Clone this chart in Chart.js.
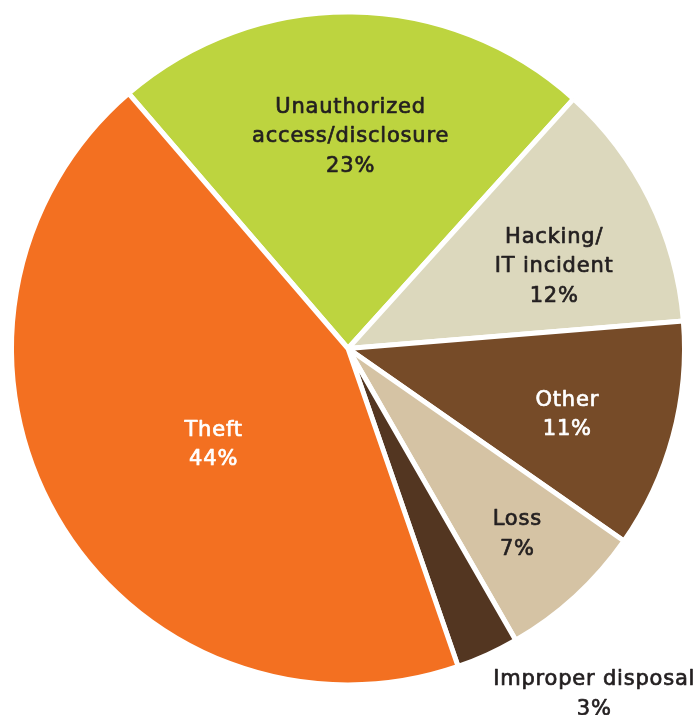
<!DOCTYPE html>
<html lang="en">
<head>
  <meta charset="UTF-8">
  <title>Breach types</title>
  <script src="https://cdn.jsdelivr.net/npm/chart.js"></script>
  <style>
    html, body { margin: 0; padding: 0; background: #fff; }
    #wrap { width: 700px; height: 715px; }
  </style>
</head>
<body>
  <div id="wrap"><canvas id="pie"></canvas></div>

  <script>
    // slice data, clockwise from the top-left edge of the green slice
    const labels = [
      ['Unauthorized', 'access/disclosure'],
      ['Hacking/', 'IT incident'],
      ['Other'],
      ['Loss'],
      ['Improper disposal'],
      ['Theft']
    ];
    const shares = [23, 12, 11, 7, 3, 44];
    const colors = ['#bdd43f', '#dcd8bd', '#764b28', '#d5c3a4', '#533621', '#f37021'];
    const textColors = ['#231f20', '#231f20', '#ffffff', '#231f20', '#231f20', '#ffffff'];

    // where each label sits: fraction of radius + small angle nudge (degrees)
    const labelPlace = [
      { r: 0.632, turn: 0 },
      { r: 0.66, turn: 4.5 },
      { r: 0.68, turn: 1.5 },
      { r: 0.745, turn: 0 },
      { r: 1.26, turn: -11 },
      { r: 0.49, turn: -5.5 }
    ];

    const sliceLabels = {
      id: 'sliceLabels',
      afterDatasetsDraw(chart) {
        const ctx = chart.ctx;
        const meta = chart.getDatasetMeta(0);
        ctx.save();
        ctx.font = '21px "DejaVu Sans"';
        ctx.letterSpacing = '0.8px';
        ctx.textAlign = 'center';
        ctx.textBaseline = 'middle';
        ctx.lineWidth = 0.7;
        ctx.lineJoin = 'round';
        meta.data.forEach((arc, i) => {
          const p = arc.getProps(['x', 'y', 'startAngle', 'endAngle', 'outerRadius'], true);
          const mid = (p.startAngle + p.endAngle) / 2 + labelPlace[i].turn * Math.PI / 180;
          const rr = p.outerRadius * labelPlace[i].r;
          const cx = p.x + Math.cos(mid) * rr;
          const cy = p.y + Math.sin(mid) * rr;
          const lines = labels[i].concat([shares[i] + '%']);
          const lh = 29.5;
          const top = cy - (lines.length - 1) * lh / 2 + 1;
          ctx.fillStyle = textColors[i];
          ctx.strokeStyle = textColors[i];
          lines.forEach((t, k) => {
            ctx.fillText(t, cx, top + k * lh);
            ctx.strokeText(t, cx, top + k * lh);
          });
        });
        ctx.restore();
      }
    };

    new Chart(document.getElementById('pie'), {
      type: 'pie',
      data: {
        labels: labels.map(l => l.join(' ')),
        datasets: [{
          data: shares,
          backgroundColor: colors,
          borderColor: '#ffffff',
          borderWidth: 5
        }]
      },
      options: {
        responsive: true,
        maintainAspectRatio: false,
        animation: false,
        rotation: -40.7,
        layout: { padding: { left: 9, right: 13, top: 9, bottom: 27 } },
        plugins: {
          legend: { display: false },
          tooltip: { enabled: false }
        }
      },
      plugins: [sliceLabels]
    });
  </script>
</body>
</html>
